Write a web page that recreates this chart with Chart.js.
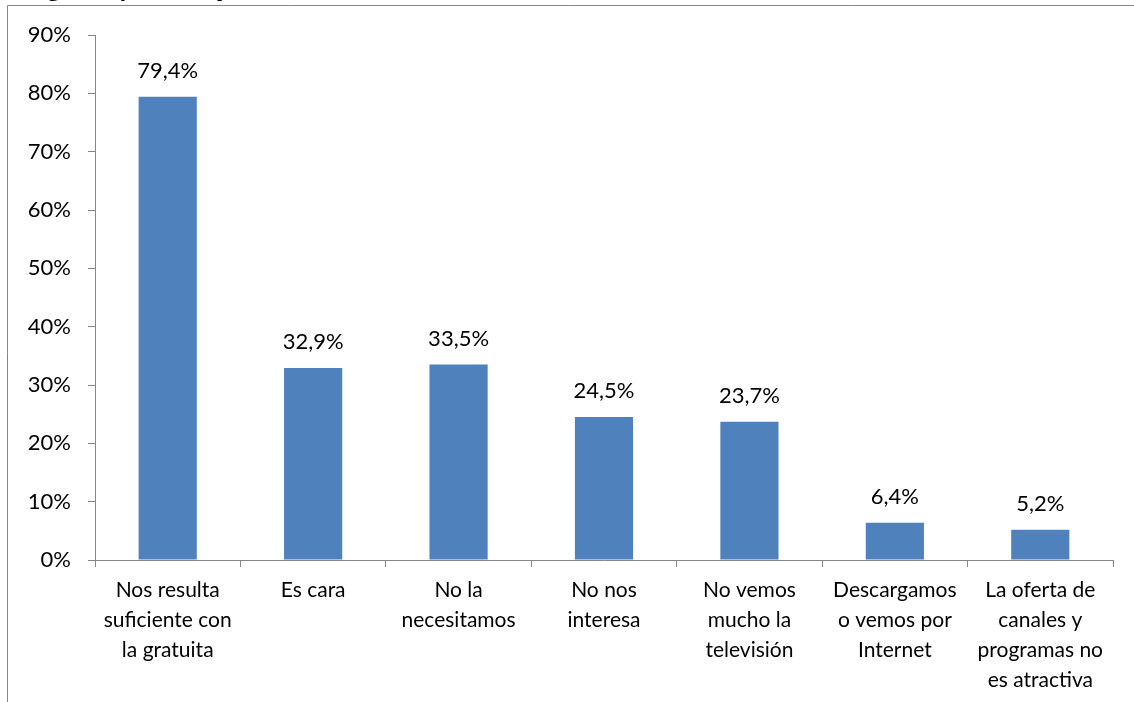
<!DOCTYPE html>
<html>
<head>
<meta charset="utf-8">
<script src="https://cdn.jsdelivr.net/npm/chart.js@4.4.0/dist/chart.umd.min.js"></script>
<style>
    html, body { margin: 0; padding: 0; background: #fff; }
    #wrap { width: 1134px; height: 702px; position: relative; }
</style>
</head>
<body>
<div id="wrap"><canvas id="chart"></canvas></div>
<script>
// Reasons for not having pay TV
const categories = [
    ['Nos resulta', 'suficiente con', 'la gratuita'],
    ['Es cara'],
    ['No la', 'necesitamos'],
    ['No nos', 'interesa'],
    ['No vemos', 'mucho la', 'televisión'],
    ['Descargamos', 'o vemos por', 'Internet'],
    ['La oferta de', 'canales y', 'programas no', 'es atractiva']
];
const values = [79.4, 32.9, 33.5, 24.5, 23.7, 6.4, 5.2];
const yTicks = [0, 10, 20, 30, 40, 50, 60, 70, 80, 90];

const axisGray = '#868686';
const barBlue = '#4F81BD';
const fontFamily = 'Lato, "Open Sans", sans-serif';

// frame and cut-off title from the original document
const framePlugin = {
    id: 'frame',
    afterDraw(chart) {
        const ctx = chart.ctx;
        ctx.save();
        ctx.fillStyle = '#000';
        ctx.font = 'bold 22px "Open Sans", sans-serif';
        ctx.textBaseline = 'alphabetic';
        ctx.fillText('(Hogares, porcentaje)', 10, -4);
        ctx.strokeStyle = axisGray;
        ctx.lineWidth = 1;
        ctx.beginPath();
        ctx.moveTo(7.5, 702);
        ctx.lineTo(7.5, 5.5);
        ctx.lineTo(1134, 5.5);
        ctx.stroke();
        ctx.restore();
    }
};

const valueLabels = {
    id: 'valueLabels',
    afterDatasetsDraw(chart) {
        const ctx = chart.ctx;
        const meta = chart.getDatasetMeta(0);
        ctx.save();
        ctx.fillStyle = '#000';
        ctx.font = '22px ' + fontFamily;
        ctx.textAlign = 'center';
        ctx.textBaseline = 'alphabetic';
        meta.data.forEach((bar, i) => {
            const txt = values[i].toFixed(1).replace('.', ',') + '%';
            ctx.fillText(txt, bar.x, bar.y - 19);
        });
        ctx.restore();
    }
};

const ctx = document.getElementById('chart').getContext('2d');
new Chart(ctx, {
    type: 'bar',
    data: {
        labels: categories,
        datasets: [{
            data: values,
            backgroundColor: barBlue,
            borderWidth: 0,
            categoryPercentage: 1,
            barPercentage: 0.4
        }]
    },
    options: {
        responsive: true,
        maintainAspectRatio: false,
        animation: false,
        layout: { padding: { left: 0, top: 35, right: 21, bottom: 0 } },
        plugins: {
            legend: { display: false },
            tooltip: { enabled: false }
        },
        scales: {
            x: {
                grid: {
                    display: true,
                    drawOnChartArea: false,
                    color: axisGray,
                    tickLength: 7,
                    offset: true
                },
                border: { color: axisGray },
                ticks: {
                    color: '#000',
                    font: { family: fontFamily, size: 21, lineHeight: '30px' },
                    padding: 8,
                    maxRotation: 0,
                    autoSkip: false
                },
                afterFit(scale) { scale.height = 142; }
            },
            y: {
                min: 0,
                max: 90,
                afterBuildTicks(scale) {
                    scale.ticks = yTicks.map(v => ({ value: v }));
                },
                grid: {
                    display: true,
                    drawOnChartArea: false,
                    color: axisGray,
                    tickLength: 7
                },
                border: { color: axisGray },
                ticks: {
                    color: '#000',
                    font: { family: fontFamily, size: 22 },
                    padding: 17,
                    callback: v => v + '%'
                },
                afterFit(scale) { scale.width = 95; }
            }
        }
    },
    plugins: [framePlugin, valueLabels]
});
</script>
</body>
</html>
